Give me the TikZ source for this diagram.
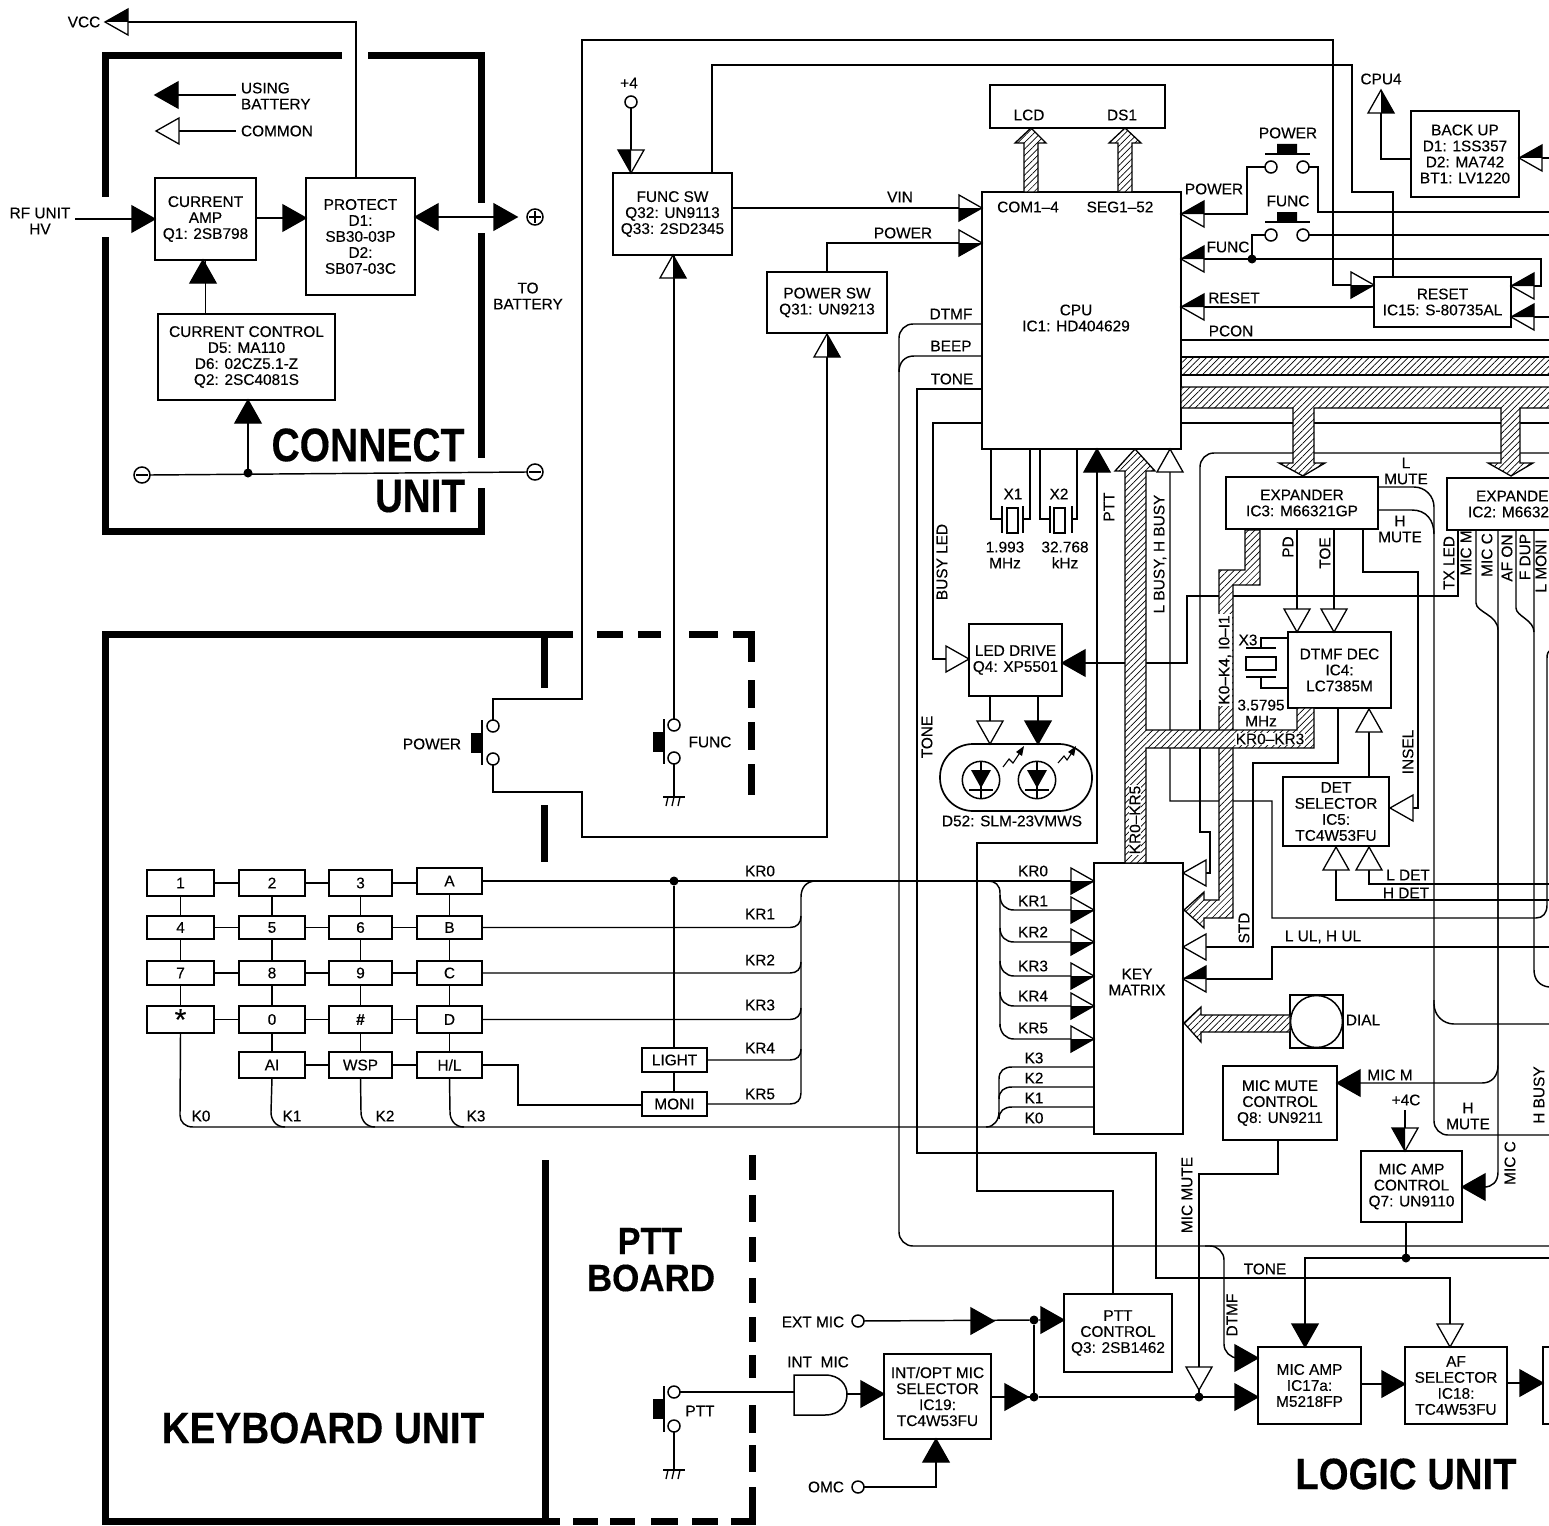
\documentclass[tikz,border=0pt]{standalone}
\usepackage{graphicx}
\usepackage{fontspec}
\setmainfont{Liberation Sans}[FakeBold=0.3]
\usetikzlibrary{patterns.meta,calc}
\newcount\labc
\tikzset{
  wire/.style={line width=1.45pt},
  bx/.style={draw,line width=1.7pt,inner sep=0pt,outer sep=0pt,align=center,font=\fontsize{15.4}{16}\selectfont},
  lbl/.style={inner sep=0pt,outer sep=0pt,align=center,font=\fontsize{15.4}{16}\selectfont},
  bigl/.style={inner sep=0pt,outer sep=0pt,align=center,font=\bfseries},
  frame/.style={line width=7pt},
  hatch/.style={draw,line width=1.3pt,line join=miter,preaction={fill=white},pattern={Lines[angle=45,distance=4.6pt,line width=.7pt]}},
  dotn/.style={circle,fill=black,inner sep=0pt,minimum size=9pt,outer sep=0pt},
  term/.style={circle,draw,line width=1.5pt,fill=white,inner sep=0pt,minimum size=12pt,outer sep=0pt},
  tipl/.style={line width=1.3pt,line join=miter},
}
\newcommand\ArB[3]{\begin{scope}[shift={(#1,#2)},rotate=#3]\filldraw[tipl] (0,0)--(-23,-13)--(-23,13)--cycle;\end{scope}}
\newcommand\ArW[3]{\begin{scope}[shift={(#1,#2)},rotate=#3]\filldraw[tipl,fill=white] (0,0)--(-23,-13)--(-23,13)--cycle;\end{scope}}
\newcommand\ArH[3]{\begin{scope}[shift={(#1,#2)},rotate=#3]\filldraw[tipl,fill=white] (0,0)--(-23,-13)--(-23,13)--cycle;\fill (0,0)--(-23,13)--(-23,0)--cycle;\end{scope}}
\newcommand\BoxN[6]{\pgfmathsetmacro\bw{#4-#2}\pgfmathsetmacro\bh{#5-#3}\pgfmathsetmacro\cxx{(#4+#2)/2}\pgfmathsetmacro\cyy{(#5+#3)/2}\node[bx,minimum width=\bw pt,minimum height=\bh pt] (#1) at (\cxx,\cyy) {#6};}
\newcommand\LabT[3]{\global\advance\labc by 1 \node[lbl] (t\the\labc) at (#1,#2) {#3};}
\newcommand\LabR[3]{\global\advance\labc by 1 \node[lbl,rotate=90] (t\the\labc) at (#1,#2) {#3};}
\newcommand\LabW[3]{\global\advance\labc by 1 \node[lbl,rotate=90,fill=white,inner sep=1pt] (t\the\labc) at (#1,#2) {#3};}
\newcommand\BigT[5]{\global\advance\labc by 1 \node[bigl] (t\the\labc) at (#1,#2) {\fontsize{#3}{#3}\selectfont\scalebox{#4}[1]{#5}};}
\newcommand\PushV[3]{% vertical push switch, x of contacts, y top, y bottom (button on left)
  \draw[line width=1.5pt] (#1-11,#2-6) -- (#1-11,#3+6);
  \fill (#1-22,{(#2+#3)/2-10}) rectangle (#1-11,{(#2+#3)/2+10});}
\newcommand\GroundS[2]{\draw[line width=1.5pt] (#1-11,#2) -- (#1+11,#2);
  \draw[line width=1.3pt] (#1-6,#2) -- (#1-8,#2+9) (#1,#2) -- (#1-2,#2+9) (#1+6,#2) -- (#1+4,#2+9);}
\begin{document}
\begin{tikzpicture}[x=1pt,y=-1pt]
\useasboundingbox (0,0) rectangle (1549,1525);
\fill[white] (0,0) rectangle (1549,1525);
\clip (0,0) rectangle (1549,1525);
% ---------- frames
\draw[frame] (342,56) -- (105,56) -- (105,197);
\draw[frame] (368,56) -- (481,56) -- (481,203);
\draw[frame] (481,233) -- (481,458);
\draw[frame] (105,237) -- (105,531) -- (481,531) -- (481,488);
\draw[frame] (573,634) -- (105,634) -- (105,1521) -- (560,1521);
\draw[frame] (544,634) -- (544,688);
\draw[frame] (544,805) -- (544,862);
\draw[frame] (545,1160) -- (545,1521);
\draw[frame] (597,634)--(623,634) (638,634)--(661,634) (689,634)--(718,634);
\draw[frame] (733,634) -- (751,634) -- (751,662);
\draw[frame] (751,680)--(751,708) (751,722)--(751,750) (751,764)--(751,795);
\draw[frame] (573,1521)--(598,1521) (610,1521)--(635,1521) (651,1521)--(678,1521) (692,1521)--(718,1521);
\draw[frame] (731,1521) -- (752,1521) -- (752,1487);
\draw[frame] (752,1155)--(752,1180) (752,1195)--(752,1222) (752,1237)--(752,1262) (752,1278)--(752,1303) (752,1317)--(752,1342) (752,1355)--(752,1378) (752,1405)--(752,1433) (752,1445)--(752,1472);
% ---------- boxes
\BoxN{camp}{155}{178}{256}{260}{CURRENT\\AMP\\Q1: 2SB798}
\BoxN{prot}{306}{178}{415}{295}{PROTECT\\D1:\\SB30-03P\\D2:\\SB07-03C}
\BoxN{cctl}{158}{314}{335}{400}{CURRENT CONTROL\\D5: MA110\\D6: 02CZ5.1-Z\\Q2: 2SC4081S}
\BoxN{fsw}{613}{173}{732}{255}{FUNC SW\\Q32: UN9113\\Q33: 2SD2345}
\BoxN{psw}{767}{272}{887}{333}{POWER SW\\Q31: UN9213}
\BoxN{lcd}{990}{85}{1165}{128}{}
\BoxN{cpu}{982}{192}{1181}{449}{}
\BoxN{bkup}{1411}{111}{1519}{197}{BACK UP\\D1: 1SS357\\D2: MA742\\BT1: LV1220}
\BoxN{rst}{1374}{277}{1511}{327}{RESET\\IC15: S-80735AL}
\BoxN{exp3}{1226}{477}{1378}{529}{EXPANDER\\IC3: M66321GP}
\BoxN{dtmf}{1288}{632}{1391}{708}{DTMF DEC\\IC4:\\LC7385M}
\BoxN{dets}{1283}{777}{1389}{846}{DET\\SELECTOR\\IC5:\\TC4W53FU}
\BoxN{ledd}{969}{624}{1062}{696}{LED DRIVE\\Q4: XP5501}
\BoxN{kmx}{1094}{863}{1183}{1134}{}
\BoxN{micm}{1223}{1066}{1337}{1140}{MIC MUTE\\CONTROL\\Q8: UN9211}
\BoxN{mica}{1361}{1151}{1462}{1222}{MIC AMP\\CONTROL\\Q7: UN9110}
\BoxN{pttc}{1064}{1294}{1172}{1372}{PTT\\CONTROL\\Q3: 2SB1462}
\BoxN{iopt}{884}{1354}{991}{1439}{INT/OPT MIC\\SELECTOR\\IC19:\\TC4W53FU}
\BoxN{amp}{1258}{1347}{1361}{1424}{MIC AMP\\IC17a:\\M5218FP}
\BoxN{afs}{1405}{1347}{1507}{1424}{AF\\SELECTOR\\IC18:\\TC4W53FU}
\BoxN{next}{1543}{1347}{1570}{1424}{}
\BoxN{dial}{1290}{995}{1343}{1048}{}
\draw[line width=1.5pt] (1316.5,1021.5) circle (26);
\draw[line width=1.7pt] (1549,478) -- (1447,478) -- (1447,530) -- (1549,530);
\node[draw,line width=1.7pt,rounded corners=33pt,minimum width=152pt,minimum height=67pt,inner sep=0pt,outer sep=0pt] (led) at (1016,777.5) {};
% keypad
\BoxN{k1}{147}{870}{214}{896}{1}\BoxN{k2}{239}{870}{305}{896}{2}\BoxN{k3}{329}{870}{392}{896}{3}\BoxN{kA}{417}{868}{482}{894}{A}
\BoxN{k4}{147}{916}{214}{939}{4}\BoxN{k5}{239}{916}{305}{939}{5}\BoxN{k6}{329}{916}{392}{939}{6}\BoxN{kB}{417}{916}{482}{939}{B}
\BoxN{k7}{147}{961}{214}{985}{7}\BoxN{k8}{239}{961}{305}{985}{8}\BoxN{k9}{329}{961}{392}{985}{9}\BoxN{kC}{417}{961}{482}{985}{C}
\BoxN{ks}{147}{1006}{214}{1033}{\raisebox{-8pt}{\fontsize{30}{30}\selectfont *}}\BoxN{k0}{239}{1006}{305}{1033}{0}\BoxN{kh}{329}{1006}{392}{1033}{\textbf{\#}}\BoxN{kD}{417}{1006}{482}{1033}{D}
\BoxN{kai}{239}{1052}{305}{1078}{AI}\BoxN{kw}{329}{1052}{392}{1078}{WSP}\BoxN{kl}{417}{1052}{482}{1078}{H/L}
\BoxN{light}{642}{1048}{707}{1072}{LIGHT}
\BoxN{moni}{642}{1092}{707}{1116}{MONI}
% terminals and junctions
\node[term] (p4) at (631,102) {};
\node[term] (pw1) at (493,726) {};\node[term] (pw2) at (493,759) {};
\node[term] (fn1) at (674,725) {};\node[term] (fn2) at (674,758) {};
\node[term] (tp1) at (1271,167) {};\node[term] (tp2) at (1303,167) {};
\node[term] (tf1) at (1271,235) {};\node[term] (tf2) at (1303,235) {};
\node[term] (ptt1) at (674,1392) {};\node[term] (ptt2) at (674,1426) {};
\node[term] (ext) at (858,1321) {};\node[term] (omc) at (858,1487) {};
\node[term,minimum size=16pt] (plus) at (535,217) {};
\node[term,minimum size=16pt] (mina) at (142,475) {};
\node[term,minimum size=16pt] (minb) at (535,472) {};
\draw[line width=1.2pt] (529,217)--(541,217) (535,211)--(535,223) (136,475)--(148,475) (529,472)--(541,472);
\node[dotn] (j1) at (248,473) {};
\node[dotn] (j2) at (674,881) {};
\node[dotn] (j3) at (1252,259) {};
\node[dotn] (j4) at (1406,1258) {};
\node[dotn] (j5) at (1034,1320) {};
\node[dotn] (j6) at (1034,1397) {};
\node[dotn] (j7) at (1199,1397) {};
\coordinate (gin) at (794,1392);\coordinate (gout) at (847,1394);
% ---------- connect unit wires
\begin{scope}[wire]
\draw (75,219) -- (camp.west |- 0,219);
\draw (camp.east |- 0,218) -- (prot.west |- 0,218);
\draw (prot.east |- 0,217) -- (517,217);
\draw (cctl.north -| camp.south) -- (camp.south);
\draw (j1) -- (248,400);
\draw (mina.east) -- (minb.west);
\draw (prot.north -| 356,0) -- (356,22) -- (105,22);
\draw (155,95) -- (236,95);
\draw (156,131) -- (236,131);
% func / power switches
\draw (p4) -- (fsw.north -| p4);
\draw (fsw.south -| fn1) -- (fn1);
\draw (fn2) -- (674,797);
\draw (fsw.north -| 712,0) -- (712,65) -- (1352,65) -- (1352,192) -- (1393,192) -- (rst.north -| 1393,0);
\draw (pw1) -- (493,699) -- (582,699) -- (582,40) -- (1333,40) -- (1333,285) -- (rst.west |- 0,285);
\draw (pw2) -- (493,792) -- (582,792) -- (582,837) -- (827,837) -- (psw.south);
\draw (fsw.east |- 0,208) -- (cpu.west |- 0,208);
\draw (psw.north) -- (827,243) -- (cpu.west |- 0,243);
% CPU east
\draw (cpu.east |- 0,214) -- (1247,214) -- (1247,167) -- (tp1);
\draw (tp2) -- (1318,167) -- (1318,212) -- (1549,212);
\draw (tf2) -- (1549,235);
\draw (tf1) -- (1252,235) -- (j3);
\draw (cpu.east |- 0,259) -- (1541,259) -- (1541,286) -- (rst.east |- 0,286);
\draw (rst.east |- 0,317) -- (1549,317);
\draw (rst.west |- 0,307) -- (cpu.east |- 0,307);
\draw (cpu.east |- 0,340) -- (1549,340);
\draw (cpu.east |- 0,423) -- (1549,423);
\draw (bkup.west |- 0,159) -- (1381,159) -- (1381,90);
\draw (bkup.east |- 0,158) -- (1549,158);
% CPU west
\draw[rounded corners=14pt] (cpu.west |- 0,324) -- (899,324) -- (899,1246) -- (1549,1246);
\draw (cpu.west |- 0,356) -- (914,356) .. controls (905,356) and (899,362) .. (899,372);
\draw[rounded corners=14pt] (1205,1246) -- (1224,1246) -- (1224,1358) -- (amp.west |- 0,1358);
\draw (cpu.west |- 0,389) -- (917,389) -- (917,1153) -- (1156,1153) -- (1156,1278) -- (1450,1278) -- (afs.north -| 1450,0);
\draw (cpu.west |- 0,423) -- (933,423) -- (933,659) -- (ledd.west |- 0,659);
% crystals
\draw (cpu.south -| 991,0) -- (991,519) -- (1002,519);
\draw (cpu.south -| 1030,0) -- (1030,519) -- (1023,519);
\draw (cpu.south -| 1040,0) -- (1040,519) -- (1050,519);
\draw (cpu.south -| 1077,0) -- (1077,519) -- (1072,519);
\draw[line width=1.5pt] (1002,506)--(1002,533) (1023,506)--(1023,533) (1050,506)--(1050,533) (1072,506)--(1072,533);
\draw[line width=1.3pt] (1007,508) rectangle (1018,533) (1054,508) rectangle (1065,533);
% PTT
\draw (pttc.north -| 1113,0) -- (1113,1191) -- (977,1191) -- (977,843) -- (1097,843) -- (cpu.south -| 1097,0);
% busy
\draw (cpu.south -| 1170,0) -- (1170,801) -- (1272,801) -- (1272,918) -- (1536,918) .. controls (1543,918) and (1547,913) .. (1547,905) -- (1547,658) .. controls (1547,654) and (1548,652) .. (1549,651);
% line to key matrix top
\draw[rounded corners=14pt] (1549,453) -- (1200,453) -- (1200,832);
\draw (1200,700) -- (1200,832) -- (1210,832) -- (1210,873) -- (kmx.east |- 0,873);
% expander 3
\draw[rounded corners=20pt] (exp3.east |- 0,487) -- (1434,487) -- (1434,1024) -- (1549,1024);
\draw[rounded corners=14pt] (1434,1000) -- (1434,1135) -- (1549,1135);
\draw (exp3.east |- 0,510) -- (1412,510) .. controls (1426,510) and (1434,520) .. (1434,534);
\draw (exp3.south -| 1297,0) -- (dtmf.north -| 1297,0);
\draw (exp3.south -| 1334,0) -- (dtmf.north -| 1334,0);
\draw (exp3.south -| 1363,0) -- (1363,572) -- (1418,572) -- (1418,808) -- (dets.east |- 0,808);
\draw (dets.north -| 1369,0) -- (dtmf.south -| 1369,0);
\draw (dtmf.south -| 1338,0) -- (1338,763) -- (1253,763) -- (1253,947) -- (kmx.east |- 0,947);
\draw (1549,884) -- (1369,884) -- (dets.south -| 1369,0);
\draw (1549,900) -- (1336,900) -- (dets.south -| 1336,0);
\draw (1549,947) -- (1272,947) -- (1272,979) -- (kmx.east |- 0,979);
% expander 2
\draw (1458,530) -- (1458,596) -- (1187,596) -- (1187,663) -- (ledd.east |- 0,663);
\draw (1476,530) -- (1476,603) .. controls (1476,612) and (1498,615) .. (1498,630) -- (1498,1065) .. controls (1498,1076) and (1492,1083) .. (1482,1083) -- (micm.east |- 0,1083);
\draw (1498,530) -- (1498,1172) .. controls (1498,1182) and (1492,1187) .. (1484,1187) -- (mica.east |- 0,1187);
\draw (1516,530) -- (1516,608) .. controls (1516,616) and (1534,620) .. (1534,632);
\draw (1534,530) -- (1534,970) .. controls (1534,980) and (1540,986) .. (1549,987);
% crystal X3
\draw (dtmf.west |- 0,638) -- (1261,638) -- (1261,648);
\draw (dtmf.west |- 0,688) -- (1261,688) -- (1261,677);
\draw[line width=1.5pt] (1246,648)--(1276,648) (1246,677)--(1276,677);
\draw[line width=1.3pt] (1246,657) rectangle (1276,670);
% LED
\draw (ledd.south -| 990,0) -- (990,742);
\draw (ledd.south -| 1038,0) -- (1038,742);
% key matrix left
\draw (kA.east) -- (kmx.west |- kA.east);
\draw (kB.east) -- (790,927.5) .. controls (797,927.5) and (801,923) .. (801,916);
\draw (kC.east) -- (790,973) .. controls (797,973) and (801,969) .. (801,962);
\draw (kD.east) -- (790,1019.5) .. controls (797,1019.5) and (801,1015) .. (801,1008);
\draw (light.east) -- (790,1060) .. controls (797,1060) and (801,1056) .. (801,1049);
\draw (moni.east) -- (790,1104) .. controls (797,1104) and (801,1100) .. (801,1093) -- (801,897) .. controls (801,888) and (806,881) .. (816,881);
\draw (988,881) .. controls (995,881) and (1000,885) .. (1000,893) -- (1000,1027);
\draw (1000,895) .. controls (1000,905) and (1006,910) .. (1014,910) -- (kmx.west |- 0,910);
\draw (1000,928) .. controls (1000,937) and (1006,942) .. (1014,942) -- (kmx.west |- 0,942);
\draw (1000,961) .. controls (1000,970) and (1006,976) .. (1014,976) -- (kmx.west |- 0,976);
\draw (1000,992) .. controls (1000,1001) and (1006,1006) .. (1014,1006) -- (kmx.west |- 0,1006);
\draw (1000,1024) .. controls (1000,1033) and (1006,1039) .. (1014,1039) -- (kmx.west |- 0,1039);
\draw (kmx.west |- 0,1067) -- (1012,1067) .. controls (1004,1067) and (999,1071) .. (999,1079) -- (999,1112) .. controls (999,1120) and (994,1127) .. (986,1127);
\draw (kmx.west |- 0,1087) -- (1012,1087) .. controls (1004,1087) and (999,1091) .. (999,1099);
\draw (kmx.west |- 0,1107) -- (1012,1107) .. controls (1004,1107) and (999,1111) .. (999,1119);
% keypad matrix wires
\draw (k1.east)--(k2.west) (k2.east)--(k3.west) (k3.east)--(kA.west |- k3.east);
\draw (k4.east)--(k5.west) (k5.east)--(k6.west) (k6.east)--(kB.west);
\draw (k7.east)--(k8.west) (k8.east)--(k9.west) (k9.east)--(kC.west);
\draw (ks.east)--(k0.west) (k0.east)--(kh.west) (kh.east)--(kD.west);
\draw (kai.east)--(kw.west) (kw.east)--(kl.west);
\draw (k1.south)--(k4.north) (k4.south)--(k7.north) (k7.south)--(ks.north);
\draw (k2.south)--(k5.north) (k5.south)--(k8.north) (k8.south)--(k0.north) (k0.south)--(kai.north);
\draw (k3.south)--(k6.north) (k6.south)--(k9.north) (k9.south)--(kh.north) (kh.south)--(kw.north);
\draw (kA.south)--(kB.north) (kB.south)--(kC.north) (kC.south)--(kD.north) (kD.south)--(kl.north);
\end{scope}
\begin{scope}[wire]
\draw (ks.south) -- (180,1115) .. controls (180,1122) and (185,1127) .. (193,1127) -- (kmx.west |- 0,1127);
\draw (kai.south) -- (271,1112) .. controls (271,1120) and (276,1127) .. (285,1127);
\draw (kw.south) -- (361,1112) .. controls (361,1120) and (366,1127) .. (375,1127);
\draw (kl.south) -- (450,1112) .. controls (450,1120) and (455,1127) .. (464,1127);
\draw (kl.east) -- (518,1065) -- (518,1105) -- (moni.west |- 0,1105);
\draw (j2) -- (light.north -| j2);
\draw (light.south -| 674,0) -- (moni.north -| 674,0);
% mic section
\draw (micm.south -| 1278,0) -- (1278,1174) -- (1199,1174) -- (1199,1370);
\draw (1199,1370) -- (j7);
\draw (mica.north -| 1405,0) -- (1405,1110);
\draw (mica.south -| 1406,0) -- (j4);
\draw (1549,1258) -- (1305,1258) -- (1305,1347);
\draw (ext) -- (j5) -- (pttc.west |- j5);
\draw (j5) -- (j6);
\draw (iopt.east |- j6) -- (j6) -- (amp.west |- j6);
\draw (amp.east |- 0,1384) -- (afs.west |- 0,1384);
\draw (afs.east |- 0,1383) -- (next.west |- 0,1383);
\draw (ptt1) -- (gin);
\draw (ptt2) -- (674,1470);
\draw (gout) -- (iopt.west |- gout);
\draw (omc) -- (936,1487) -- (iopt.south -| 936,0);
\end{scope}
% gate
\draw[line width=1.5pt] (gin |- 0,1375) -- (825,1375) .. controls (840,1375) and (847,1385) .. (847,1394) .. controls (847,1405) and (840,1415) .. (825,1415) -- (794,1415) -- cycle;
% switches
\PushV{493}{726}{759}
\PushV{675}{725}{758}
\PushV{675}{1392}{1426}
\GroundS{674}{797}
\GroundS{674}{1470}
\draw[line width=1.5pt] (1265,154) -- (1310,154) (1265,222) -- (1310,222);
\fill (1277,144) rectangle (1297,154) (1277,212) rectangle (1297,222);
% diodes
\foreach \cx in {981,1037}{
  \draw[line width=1.5pt] (\cx,780) circle (18.7);
  \draw[line width=1.2pt] (\cx,762)--(\cx,798);
  \fill (\cx-10,770) -- (\cx+10,770) -- (\cx,788) -- cycle;
  \draw[line width=2pt] (\cx-12,790)--(\cx+12,790);
}
\draw[line width=1.1pt] (1003,767)--(1009,759)--(1013,763)--(1021,751);
\fill (1024,746)--(1016,752)--(1022,756)--cycle;
\draw[line width=1.1pt] (1058,763)--(1064,756)--(1067,760)--(1073,751);
\fill (1076,746)--(1068,752)--(1074,756)--cycle;
% ---------- buses
\path[hatch] (1551,357) -- (cpu.east |- 0,357) -- (1181,375) -- (1551,375) -- cycle;
\path[hatch] (1181,387) -- (1551,387) -- (1551,408) -- (1520,408) -- (1520,463) -- (1533,463) -- (1511,476) -- (1488,463) -- (1501,463) -- (1501,408) -- (1314,408) -- (1314,463) -- (1325,463) -- (1303,476) -- (1279,463) -- (1293,463) -- (1293,408) -- (1181,408) -- cycle;
\path[hatch] (1031,128) -- (1046,143) -- (1038,143) -- (1038,192) -- (1024,192) -- (1024,143) -- (1015,143) -- cycle;
\path[hatch] (1125,128) -- (1141,143) -- (1132,143) -- (1132,192) -- (1118,192) -- (1118,143) -- (1109,143) -- cycle;
\path[hatch] (1245,530) -- (1260,530) -- (1260,585) -- (1233,585) -- (1233,918) -- (1204,918) -- (1204,928) -- (1184,910) -- (1204,892) -- (1204,900) -- (1219,900) -- (1219,570) -- (1245,570) -- cycle;
\path[hatch] (1135,449) -- (1155,471) -- (1146,471) -- (1146,730) -- (1297,730) -- (1297,708) -- (1314,708) -- (1314,748) -- (1146,748) -- (1146,863) -- (1125,863) -- (1125,471) -- (1115,471) -- cycle;
\path[hatch] (1184,1023) -- (1201,1007) -- (1201,1015) -- (1290,1015) -- (1290,1032) -- (1201,1032) -- (1201,1042) -- cycle;
% ---------- arrowheads
\ArB{155}{219}{0}\ArB{306}{218}{0}\ArB{415}{217}{180}\ArB{517}{217}{0}
\ArB{203}{260}{90}\ArB{248}{400}{90}
\ArH{105}{22}{180}
\ArB{155}{95}{180}\ArW{156}{131}{180}
\ArH{631}{173}{270}\ArH{673}{255}{90}\ArH{827}{334}{90}
\ArH{982}{208}{0}\ArH{982}{243}{0}
\ArH{1181}{214}{180}\ArH{1181}{259}{180}\ArH{1181}{307}{180}
\ArH{1374}{285}{0}\ArH{1511}{286}{180}\ArH{1511}{317}{180}
\ArH{1381}{90}{90}\ArH{1519}{158}{180}
\ArB{1097}{449}{90}\ArW{1170}{449}{90}
\ArW{1297}{632}{270}\ArW{1334}{632}{270}
\ArW{1369}{709}{90}\ArW{1390}{808}{180}
\ArW{1336}{847}{90}\ArW{1369}{847}{90}
\ArW{969}{659}{0}\ArB{1062}{663}{180}
\ArW{990}{744}{270}\ArB{1038}{744}{270}
\ArH{1094}{881}{0}\ArH{1094}{910}{0}\ArH{1094}{942}{0}\ArH{1094}{976}{0}\ArH{1094}{1006}{0}\ArH{1094}{1039}{0}
\ArW{1183}{873}{180}\ArW{1183}{947}{180}\ArH{1183}{979}{180}
\ArB{1337}{1083}{180}\ArH{1405}{1151}{270}\ArB{1462}{1187}{180}
\ArB{994}{1321}{0}\ArB{1064}{1320}{0}\ArB{884}{1394}{0}\ArB{1028}{1397}{0}
\ArB{936}{1439}{90}
\ArB{1258}{1358}{0}\ArB{1258}{1397}{0}\ArB{1305}{1347}{270}\ArW{1450}{1347}{270}
\ArW{1199}{1390}{270}
\ArB{1405}{1384}{0}\ArB{1543}{1383}{0}
% ---------- labels
\LabT{40}{221}{RF UNIT\\HV}
\LabT{84}{22}{VCC}
\node[lbl,anchor=west,align=left] (usebat) at (241,96) {USING\\BATTERY};
\node[lbl,anchor=west] (common) at (241,131) {COMMON};
\LabT{528}{296}{TO\\BATTERY}
\BigT{368}{445}{47}{.83}{CONNECT}
\BigT{420}{496}{47}{.82}{UNIT}
\BigT{323}{1428}{44}{.88}{KEYBOARD UNIT}
\BigT{1406}{1474}{44}{.87}{LOGIC UNIT}
\BigT{650}{1241}{38}{.9}{PTT}
\BigT{651}{1278}{38}{.92}{BOARD}
\LabT{629}{83}{+4}
\LabT{432}{744}{POWER}
\LabT{710}{742}{FUNC}
\LabT{700}{1411}{PTT}
\LabT{900}{197}{VIN}
\LabT{903}{233}{POWER}
\LabT{1029}{115}{LCD}
\LabT{1122}{115}{DS1}
\LabT{1028}{207}{COM1–4}
\LabT{1120}{207}{SEG1–52}
\LabT{1076}{318}{CPU\\IC1: HD404629}
\LabT{951}{314}{DTMF}
\LabT{951}{346}{BEEP}
\LabT{952}{379}{TONE}
\LabT{1214}{189}{POWER}
\LabT{1228}{247}{FUNC}
\LabT{1234}{298}{RESET}
\LabT{1231}{331}{PCON}
\LabT{1288}{133}{POWER}
\LabT{1288}{201}{FUNC}
\LabT{1381}{79}{CPU4}
\LabT{1406}{471}{L\\MUTE}
\LabT{1400}{529}{H\\MUTE}
\node[lbl,anchor=west] (exptext) at (1476,496) {EXPANDE};
\node[lbl,anchor=west] (exptextb) at (1468,512) {IC2: M6632};
\LabR{1449}{563}{TX LED}
\LabR{1466}{553}{MIC M}
\LabR{1487}{555}{MIC C}
\LabR{1507}{558}{AF ON}
\LabR{1525}{557}{F DUP}
\LabR{1541}{566}{L MONI}
\LabT{1013}{494}{X1}
\LabT{1059}{494}{X2}
\LabT{1005}{555}{1.993\\MHz}
\LabT{1065}{555}{32.768\\kHz}
\LabR{942}{562}{BUSY LED}
\LabR{1109}{507}{PTT}
\LabR{1160}{554}{L BUSY, H BUSY}
\LabR{1288}{547}{PD}
\LabR{1325}{553}{TOE}
\LabR{1408}{752}{INSEL}
\LabR{927}{737}{TONE}
\LabT{1012}{821}{D52: SLM-23VMWS}
\LabT{1248}{640}{X3}
\LabT{1261}{713}{3.5795\\MHz}
\LabW{1135}{820}{KR0–KR5}
\LabW{1225}{660}{K0–K4, I0–I1}
\global\advance\labc by 1 \node[lbl,fill=white,inner sep=1pt] (kr03) at (1270,739) {KR0–KR3};
\LabT{1408}{875}{L DET}
\LabT{1406}{893}{H DET}
\LabT{1323}{937}{L UL, H UL}
\LabR{1244}{928}{STD}
\LabT{1137}{982}{KEY\\MATRIX}
\LabT{1363}{1020}{DIAL}
\LabT{1033}{871}{KR0}\LabT{1033}{901}{KR1}\LabT{1033}{932}{KR2}\LabT{1033}{966}{KR3}\LabT{1033}{996}{KR4}\LabT{1033}{1028}{KR5}
\LabT{1034}{1058}{K3}\LabT{1034}{1078}{K2}\LabT{1034}{1098}{K1}\LabT{1034}{1118}{K0}
\LabT{760}{871}{KR0}\LabT{760}{914}{KR1}\LabT{760}{960}{KR2}\LabT{760}{1005}{KR3}\LabT{760}{1048}{KR4}\LabT{760}{1094}{KR5}
\LabT{201}{1116}{K0}\LabT{292}{1116}{K1}\LabT{385}{1116}{K2}\LabT{476}{1116}{K3}
\LabT{1390}{1075}{MIC M}
\LabT{1406}{1100}{+4C}
\LabT{1468}{1116}{H\\MUTE}
\LabR{1539}{1095}{H BUSY}
\LabR{1510}{1163}{MIC C}
\LabR{1187}{1195}{MIC MUTE}
\LabR{1232}{1315}{DTMF}
\LabT{1265}{1269}{TONE}
\LabT{813}{1322}{EXT MIC}
\LabT{818}{1362}{INT\ \ MIC}
\LabT{826}{1487}{OMC}
\end{tikzpicture}
\end{document}
